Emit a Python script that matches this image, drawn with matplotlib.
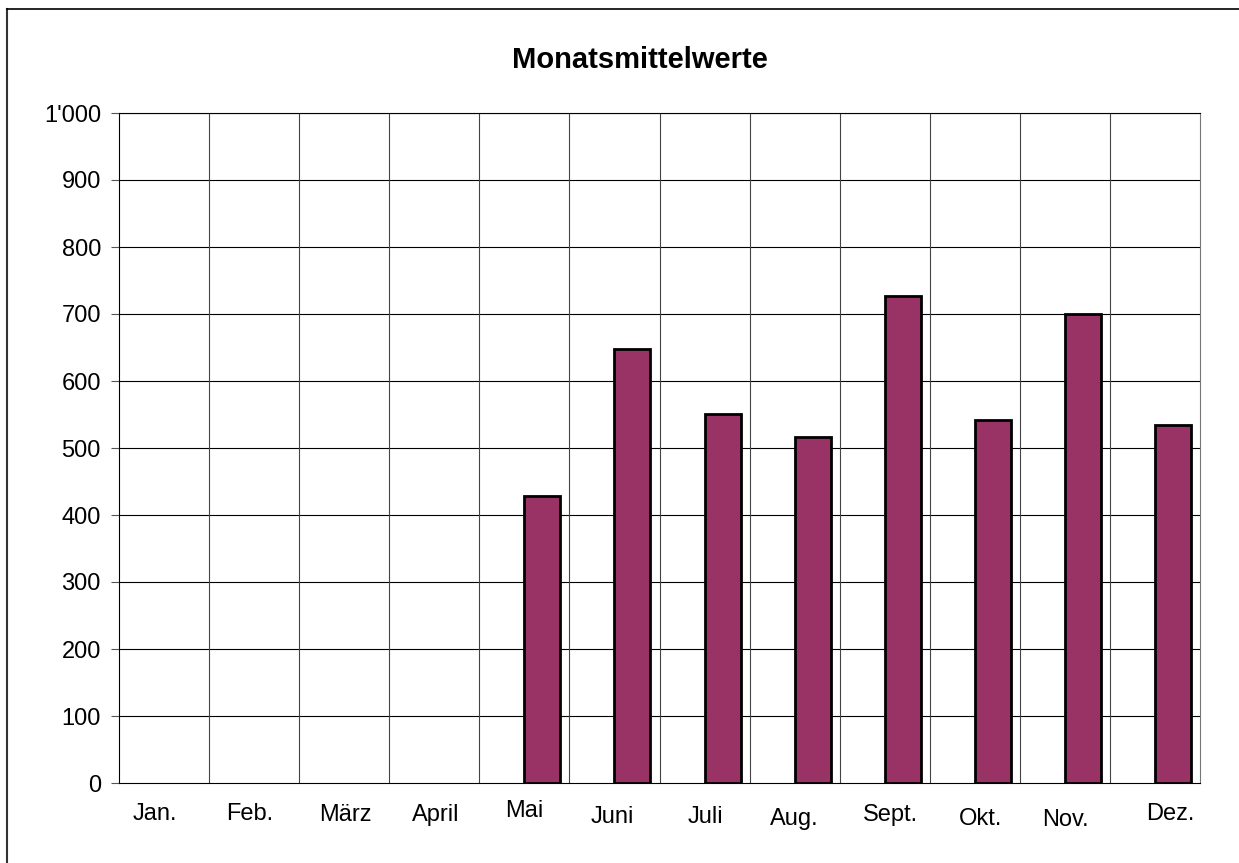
import numpy as np
import matplotlib.pyplot as plt
from matplotlib.transforms import blended_transform_factory, offset_copy
from matplotlib.lines import Line2D

plt.rcParams['font.family'] = ['Liberation Sans', 'DejaVu Sans']

monate = ['Jan.', 'Feb.', 'März', 'April', 'Mai', 'Juni',
          'Juli', 'Aug.', 'Sept.', 'Okt.', 'Nov.', 'Dez.']
werte = np.array([0, 0, 0, 0, 428, 648, 551, 516, 727, 542, 700, 534])
yticks = [0, 100, 200, 300, 400, 500, 600, 700, 800, 900, 1000]
ylabels = ['0', '100', '200', '300', '400', '500', '600', '700', '800', '900', "1'000"]

# kleine Versätze der Monatsbeschriftungen (px)
dx = [-9, -4, 1, 1, 0, -2, 1, 0, 6, 6, 1, 15]
dy = [0, 0, -1, -1, 3, -3, -3, -5, -1, -5, -6, 0]

W, H = 1239, 863
fig = plt.figure(figsize=(W / 100, H / 100), dpi=100)
ax = fig.add_axes([119 / W, (H - 783) / H, (1200 - 119) / W, (783 - 113) / H])

x = np.arange(len(monate))
nz = werte > 0
ax.bar(x[nz], werte[nz], width=0.4, align='edge',
       color='#993366', edgecolor='black', linewidth=2.0, zorder=3)

ax.set_xlim(-0.5, len(monate) - 0.5)
ax.set_ylim(0, 1000)
ax.set_yticks(yticks)
ax.set_yticklabels(ylabels, fontsize=17)
ax.tick_params(axis='y', length=6, width=0.8, pad=7, color='#555555')
ax.set_xticks([])

# Gitter: horizontal schwarz, vertikal grau zwischen den Monaten
for y in yticks[1:]:
    ax.axhline(y, color='black', linewidth=0.8, zorder=1)
for xb in np.arange(0.5, len(monate) - 0.5, 1.0):
    ax.axvline(xb, color='#444444', linewidth=0.8, zorder=1)

for s in ['top', 'bottom', 'left']:
    ax.spines[s].set_color('black')
    ax.spines[s].set_linewidth(0.8)
ax.spines['right'].set_color('#777777')
ax.spines['right'].set_linewidth(0.8)

# Monatsnamen unter der Achse
tr = blended_transform_factory(ax.transData, ax.transAxes)
for i, m in enumerate(monate):
    t = offset_copy(tr, fig=fig, x=dx[i] * 0.72, y=(-31 + dy[i]) * 0.72, units='points')
    ax.text(i, 0, m, transform=t, ha='center', va='center', fontsize=17)

fig.text(640 / W, 1 - 60 / H, 'Monatsmittelwerte', ha='center', va='center',
         fontsize=21, fontweight='bold')

# Rahmen oben und links
fig.add_artist(Line2D([7 / W, 7 / W], [0, 1 - 9 / H], color='#333333',
                      linewidth=1.5, transform=fig.transFigure))
fig.add_artist(Line2D([7 / W, 1], [1 - 9 / H, 1 - 9 / H], color='black',
                      linewidth=1.2, transform=fig.transFigure))

fig.savefig('out.png', dpi=100)
